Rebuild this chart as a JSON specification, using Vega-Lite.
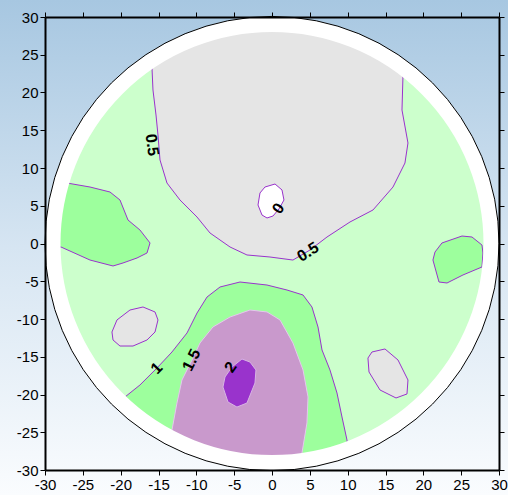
{
 "$schema": "https://vega.github.io/schema/vega-lite/v6.json",
 "width": 454, "height": 453,
 "autosize": {"type": "none"},
 "padding": {"left": 45, "top": 17, "right": 9, "bottom": 25},
 "background": "white",
 "config": {
  "view": {"stroke": null},
  "axis": {"grid": false, "domainColor": "#000", "domainWidth": 2, "tickColor": "#000", "tickSize": 5, "tickWidth": 1,
   "labelFont": "Liberation Sans", "labelFontSize": 15, "labelColor": "#000", "labelPadding": 2, "labelFlush": false}
 },
 "datasets": {
  "one": [{}],
  "poly": [
   {"id":"g1","lv":"grey","i":0,"x":-15.86,"y":23.25},
   {"id":"g1","lv":"grey","i":1,"x":-15.73,"y":20.33},
   {"id":"g1","lv":"grey","i":2,"x":-15.33,"y":17.02},
   {"id":"g1","lv":"grey","i":3,"x":-15.07,"y":14.37},
   {"id":"g1","lv":"grey","i":4,"x":-14.8,"y":11.06},
   {"id":"g1","lv":"grey","i":5,"x":-13.88,"y":8.01},
   {"id":"g1","lv":"grey","i":6,"x":-12.16,"y":5.76},
   {"id":"g1","lv":"grey","i":7,"x":-9.91,"y":3.51},
   {"id":"g1","lv":"grey","i":8,"x":-8.19,"y":1.39},
   {"id":"g1","lv":"grey","i":9,"x":-5.55,"y":-0.46},
   {"id":"g1","lv":"grey","i":10,"x":-3.31,"y":-1.52},
   {"id":"g1","lv":"grey","i":11,"x":-0.27,"y":-1.79},
   {"id":"g1","lv":"grey","i":12,"x":2.77,"y":-2.19},
   {"id":"g1","lv":"grey","i":13,"x":5.02,"y":-0.86},
   {"id":"g1","lv":"grey","i":14,"x":7.27,"y":0.86},
   {"id":"g1","lv":"grey","i":15,"x":10.31,"y":2.85},
   {"id":"g1","lv":"grey","i":16,"x":13.35,"y":4.44},
   {"id":"g1","lv":"grey","i":17,"x":15.99,"y":7.48},
   {"id":"g1","lv":"grey","i":18,"x":17.57,"y":10.66},
   {"id":"g1","lv":"grey","i":19,"x":17.97,"y":13.31},
   {"id":"g1","lv":"grey","i":20,"x":17.18,"y":17.68},
   {"id":"g1","lv":"grey","i":21,"x":17.31,"y":22.19},
   {"id":"g1","lv":"grey","i":22,"x":16.8,"y":24.0},
   {"id":"g1","lv":"grey","i":23,"x":10.0,"y":27.5},
   {"id":"g1","lv":"grey","i":24,"x":0,"y":29.3},
   {"id":"g1","lv":"grey","i":25,"x":-10.0,"y":27.5},
   {"id":"g1","lv":"grey","i":26,"x":-16.8,"y":24.0},
   {"id":"g1","lv":"grey","i":27,"x":-15.86,"y":23.25},

   {"id":"s1","lv":"grey","i":0,"x":-21.15,"y":-11.72},
   {"id":"s1","lv":"grey","i":1,"x":-20.49,"y":-10.13},
   {"id":"s1","lv":"grey","i":2,"x":-18.77,"y":-8.81},
   {"id":"s1","lv":"grey","i":3,"x":-17.05,"y":-8.41},
   {"id":"s1","lv":"grey","i":4,"x":-15.46,"y":-9.07},
   {"id":"s1","lv":"grey","i":5,"x":-15.07,"y":-10.13},
   {"id":"s1","lv":"grey","i":6,"x":-15.46,"y":-11.72},
   {"id":"s1","lv":"grey","i":7,"x":-16.52,"y":-12.78},
   {"id":"s1","lv":"grey","i":8,"x":-18.37,"y":-13.58},
   {"id":"s1","lv":"grey","i":9,"x":-20.09,"y":-13.58},
   {"id":"s1","lv":"grey","i":10,"x":-21.01,"y":-12.78},
   {"id":"s1","lv":"grey","i":11,"x":-21.15,"y":-11.72},

   {"id":"s2","lv":"grey","i":0,"x":13.21,"y":-14.37},
   {"id":"s2","lv":"grey","i":1,"x":14.93,"y":-13.97},
   {"id":"s2","lv":"grey","i":2,"x":16.65,"y":-15.43},
   {"id":"s2","lv":"grey","i":3,"x":17.97,"y":-18.08},
   {"id":"s2","lv":"grey","i":4,"x":17.84,"y":-19.93},
   {"id":"s2","lv":"grey","i":5,"x":16.39,"y":-20.46},
   {"id":"s2","lv":"grey","i":6,"x":14.27,"y":-19.4},
   {"id":"s2","lv":"grey","i":7,"x":12.82,"y":-17.02},
   {"id":"s2","lv":"grey","i":8,"x":12.68,"y":-15.17},
   {"id":"s2","lv":"grey","i":9,"x":13.21,"y":-14.37},

   {"id":"h1","lv":"white","i":0,"x":-0.93,"y":7.48},
   {"id":"h1","lv":"white","i":1,"x":0.4,"y":7.88},
   {"id":"h1","lv":"white","i":2,"x":1.32,"y":7.09},
   {"id":"h1","lv":"white","i":3,"x":1.58,"y":5.76},
   {"id":"h1","lv":"white","i":4,"x":0.92,"y":4.57},
   {"id":"h1","lv":"white","i":5,"x":0.13,"y":3.64},
   {"id":"h1","lv":"white","i":6,"x":-0.66,"y":3.38},
   {"id":"h1","lv":"white","i":7,"x":-1.32,"y":3.77},
   {"id":"h1","lv":"white","i":8,"x":-1.85,"y":5.1},
   {"id":"h1","lv":"white","i":9,"x":-1.59,"y":6.69},
   {"id":"h1","lv":"white","i":10,"x":-0.93,"y":7.48},

   {"id":"k1","lv":"green","i":0,"x":-27.09,"y":8.01},
   {"id":"k1","lv":"green","i":1,"x":-24.05,"y":7.48},
   {"id":"k1","lv":"green","i":2,"x":-21.41,"y":6.82},
   {"id":"k1","lv":"green","i":3,"x":-20.09,"y":5.76},
   {"id":"k1","lv":"green","i":4,"x":-19.03,"y":3.11},
   {"id":"k1","lv":"green","i":5,"x":-17.45,"y":1.79},
   {"id":"k1","lv":"green","i":6,"x":-16.12,"y":0.07},
   {"id":"k1","lv":"green","i":7,"x":-16.52,"y":-1.26},
   {"id":"k1","lv":"green","i":8,"x":-17.84,"y":-1.92},
   {"id":"k1","lv":"green","i":9,"x":-19.69,"y":-2.58},
   {"id":"k1","lv":"green","i":10,"x":-21.01,"y":-2.98},
   {"id":"k1","lv":"green","i":11,"x":-24.05,"y":-2.19},
   {"id":"k1","lv":"green","i":12,"x":-27.89,"y":-0.46},
   {"id":"k1","lv":"green","i":13,"x":-29.29,"y":-0.51},
   {"id":"k1","lv":"green","i":14,"x":-29.0,"y":4.08},
   {"id":"k1","lv":"green","i":15,"x":-28.1,"y":8.3},
   {"id":"k1","lv":"green","i":16,"x":-27.09,"y":8.01},

   {"id":"k2","lv":"green","i":0,"x":21.54,"y":-1.13},
   {"id":"k2","lv":"green","i":1,"x":22.46,"y":0.07},
   {"id":"k2","lv":"green","i":2,"x":25.11,"y":0.99},
   {"id":"k2","lv":"green","i":3,"x":26.43,"y":0.86},
   {"id":"k2","lv":"green","i":4,"x":27.75,"y":-0.2},
   {"id":"k2","lv":"green","i":5,"x":27.88,"y":-1.26},
   {"id":"k2","lv":"green","i":6,"x":27.75,"y":-3.11},
   {"id":"k2","lv":"green","i":7,"x":25.24,"y":-4.17},
   {"id":"k2","lv":"green","i":8,"x":23.13,"y":-5.23},
   {"id":"k2","lv":"green","i":9,"x":22.07,"y":-5.1},
   {"id":"k2","lv":"green","i":10,"x":21.27,"y":-2.19},
   {"id":"k2","lv":"green","i":11,"x":21.54,"y":-1.13},

   {"id":"k3","lv":"green","i":0,"x":-19.43,"y":-20.33},
   {"id":"k3","lv":"green","i":1,"x":-17.45,"y":-18.74},
   {"id":"k3","lv":"green","i":2,"x":-15.2,"y":-16.49},
   {"id":"k3","lv":"green","i":3,"x":-13.22,"y":-14.37},
   {"id":"k3","lv":"green","i":4,"x":-11.23,"y":-11.85},
   {"id":"k3","lv":"green","i":5,"x":-9.91,"y":-9.21},
   {"id":"k3","lv":"green","i":6,"x":-8.59,"y":-7.09},
   {"id":"k3","lv":"green","i":7,"x":-6.87,"y":-5.76},
   {"id":"k3","lv":"green","i":8,"x":-4.23,"y":-5.1},
   {"id":"k3","lv":"green","i":9,"x":-0.66,"y":-5.5},
   {"id":"k3","lv":"green","i":10,"x":1.98,"y":-6.16},
   {"id":"k3","lv":"green","i":11,"x":4.1,"y":-6.82},
   {"id":"k3","lv":"green","i":12,"x":5.28,"y":-8.41},
   {"id":"k3","lv":"green","i":13,"x":6.08,"y":-11.06},
   {"id":"k3","lv":"green","i":14,"x":6.61,"y":-14.11},
   {"id":"k3","lv":"green","i":15,"x":7.66,"y":-16.75},
   {"id":"k3","lv":"green","i":16,"x":8.59,"y":-19.8},
   {"id":"k3","lv":"green","i":17,"x":9.25,"y":-22.98},
   {"id":"k3","lv":"green","i":18,"x":9.91,"y":-26.03},
   {"id":"k3","lv":"green","i":19,"x":10.02,"y":-27.53},
   {"id":"k3","lv":"green","i":20,"x":0,"y":-29.3},
   {"id":"k3","lv":"green","i":21,"x":-10.02,"y":-27.53},
   {"id":"k3","lv":"green","i":22,"x":-16.81,"y":-24.0},
   {"id":"k3","lv":"green","i":23,"x":-20.35,"y":-21.08},
   {"id":"k3","lv":"green","i":24,"x":-19.43,"y":-20.33},

   {"id":"p1","lv":"pink","i":0,"x":-13.22,"y":-24.7},
   {"id":"p1","lv":"pink","i":1,"x":-12.56,"y":-21.13},
   {"id":"p1","lv":"pink","i":2,"x":-11.9,"y":-18.08},
   {"id":"p1","lv":"pink","i":3,"x":-10.57,"y":-15.43},
   {"id":"p1","lv":"pink","i":4,"x":-9.52,"y":-13.18},
   {"id":"p1","lv":"pink","i":5,"x":-7.8,"y":-11.06},
   {"id":"p1","lv":"pink","i":6,"x":-5.55,"y":-9.74},
   {"id":"p1","lv":"pink","i":7,"x":-2.91,"y":-8.81},
   {"id":"p1","lv":"pink","i":8,"x":-0.66,"y":-9.07},
   {"id":"p1","lv":"pink","i":9,"x":1.06,"y":-10.13},
   {"id":"p1","lv":"pink","i":10,"x":2.77,"y":-13.18},
   {"id":"p1","lv":"pink","i":11,"x":4.1,"y":-16.75},
   {"id":"p1","lv":"pink","i":12,"x":4.76,"y":-20.33},
   {"id":"p1","lv":"pink","i":13,"x":4.62,"y":-23.77},
   {"id":"p1","lv":"pink","i":14,"x":3.96,"y":-27.75},
   {"id":"p1","lv":"pink","i":15,"x":4.1,"y":-29.0},
   {"id":"p1","lv":"pink","i":16,"x":0,"y":-29.3},
   {"id":"p1","lv":"pink","i":17,"x":-7.58,"y":-28.3},
   {"id":"p1","lv":"pink","i":18,"x":-13.84,"y":-25.82},
   {"id":"p1","lv":"pink","i":19,"x":-13.22,"y":-24.7},

   {"id":"q1","lv":"purple","i":0,"x":-5.29,"y":-16.36},
   {"id":"q1","lv":"purple","i":1,"x":-3.97,"y":-15.3},
   {"id":"q1","lv":"purple","i":2,"x":-2.91,"y":-15.7},
   {"id":"q1","lv":"purple","i":3,"x":-2.12,"y":-16.75},
   {"id":"q1","lv":"purple","i":4,"x":-2.25,"y":-18.48},
   {"id":"q1","lv":"purple","i":5,"x":-3.31,"y":-21.13},
   {"id":"q1","lv":"purple","i":6,"x":-4.63,"y":-21.66},
   {"id":"q1","lv":"purple","i":7,"x":-5.82,"y":-20.99},
   {"id":"q1","lv":"purple","i":8,"x":-6.48,"y":-19.01},
   {"id":"q1","lv":"purple","i":9,"x":-6.21,"y":-17.68},
   {"id":"q1","lv":"purple","i":10,"x":-5.29,"y":-16.36}
  ],
  "labels": [
   {"id":"a","t":"0.5","x":-15.86,"y":13.05},
   {"id":"b","t":"0.5","x":4.76,"y":-1.13},
   {"id":"c","t":"0","x":0.85,"y":4.65},
   {"id":"d","t":"1","x":-15.24,"y":-16.53},
   {"id":"e","t":"1.5","x":-10.62,"y":-15.43},
   {"id":"f","t":"2","x":-5.46,"y":-16.4}
  ]
 },
 "resolve": {"axis": {"x": "independent", "y": "independent"}},
 "layer": [
  {
   "data": {"name": "one"},
   "mark": {"type": "rect", "color": {"gradient": "linear", "x1": 0, "y1": 0, "x2": 0, "y2": 1,
     "stops": [{"offset": 0, "color": "#a7c7e1"}, {"offset": 0.5, "color": "#d6e5f2"}, {"offset": 1, "color": "#fafcfe"}]}},
   "encoding": {
    "x": {"datum": -35.95, "type": "quantitative", "scale": {"domain": [-30, 30], "nice": false, "zero": false},
      "axis": {"orient": "bottom", "title": null, "zindex": 2, "values": [-30,-25,-20,-15,-10,-5,0,5,10,15,20,25,30],
        "labelExpr": "datum.value < 0 ? '-' + abs(datum.value) : '' + datum.value"}},
    "x2": {"datum": 31.19},
    "y": {"datum": 32.25, "type": "quantitative", "scale": {"domain": [-30, 30], "nice": false, "zero": false},
      "axis": {"orient": "left", "title": null, "zindex": 2, "values": [-30,-25,-20,-15,-10,-5,0,5,10,15,20,25,30],
        "labelExpr": "datum.value < 0 ? '-' + abs(datum.value) : '' + datum.value"}},
    "y2": {"datum": -33.31}
   }
  },
  {
   "data": {"name": "one"},
   "mark": {"type": "point", "shape": "circle", "filled": true, "fill": "#ccffcc", "strokeWidth": 0, "opacity": 1, "size": 180540},
   "encoding": {"x": {"datum": 0, "type": "quantitative", "axis": null}, "y": {"datum": 0, "type": "quantitative", "axis": null}}
  },
  {
   "data": {"name": "poly"},
   "transform": [{"filter": "datum.lv == 'grey'"}],
   "mark": {"type": "line", "fill": "#e5e5e5", "stroke": "#9933cc", "strokeWidth": 1},
   "encoding": {"x": {"field": "x", "type": "quantitative", "axis": null}, "y": {"field": "y", "type": "quantitative", "axis": null},
     "detail": {"field": "id"}, "order": {"field": "i", "type": "quantitative"}}
  },
  {
   "data": {"name": "poly"},
   "transform": [{"filter": "datum.lv == 'green'"}],
   "mark": {"type": "line", "fill": "#9dff9d", "stroke": "#9933cc", "strokeWidth": 1},
   "encoding": {"x": {"field": "x", "type": "quantitative", "axis": null}, "y": {"field": "y", "type": "quantitative", "axis": null},
     "detail": {"field": "id"}, "order": {"field": "i", "type": "quantitative"}}
  },
  {
   "data": {"name": "poly"},
   "transform": [{"filter": "datum.lv == 'pink'"}],
   "mark": {"type": "line", "fill": "#c999cc", "stroke": "#e6c6ee", "strokeWidth": 1},
   "encoding": {"x": {"field": "x", "type": "quantitative", "axis": null}, "y": {"field": "y", "type": "quantitative", "axis": null},
     "detail": {"field": "id"}, "order": {"field": "i", "type": "quantitative"}}
  },
  {
   "data": {"name": "poly"},
   "transform": [{"filter": "datum.lv == 'purple'"}],
   "mark": {"type": "line", "fill": "#9933cc", "stroke": "#d8b4e4", "strokeWidth": 1},
   "encoding": {"x": {"field": "x", "type": "quantitative", "axis": null}, "y": {"field": "y", "type": "quantitative", "axis": null},
     "detail": {"field": "id"}, "order": {"field": "i", "type": "quantitative"}}
  },
  {
   "data": {"name": "poly"},
   "transform": [{"filter": "datum.lv == 'white'"}],
   "mark": {"type": "line", "fill": "#ffffff", "stroke": "#9933cc", "strokeWidth": 1},
   "encoding": {"x": {"field": "x", "type": "quantitative", "axis": null}, "y": {"field": "y", "type": "quantitative", "axis": null},
     "detail": {"field": "id"}, "order": {"field": "i", "type": "quantitative"}}
  },
  {
   "data": {"name": "one"},
   "mark": {"type": "point", "shape": "circle", "filled": false, "stroke": "#ffffff", "strokeWidth": 15.5, "opacity": 1, "size": 192282},
   "encoding": {"x": {"datum": 0, "type": "quantitative", "axis": null}, "y": {"datum": 0, "type": "quantitative", "axis": null}}
  },
  {
   "data": {"name": "one"},
   "mark": {"type": "point", "shape": "circle", "filled": false, "stroke": "#000000", "strokeWidth": 1, "opacity": 1, "size": 206116},
   "encoding": {
    "x": {"datum": 0, "type": "quantitative", "axis": {"orient": "top", "title": null, "zindex": 2, "labels": false, "values": [-30,-25,-20,-15,-10,-5,0,5,10,15,20,25,30]}},
    "y": {"datum": 0, "type": "quantitative", "axis": {"orient": "right", "title": null, "zindex": 2, "labels": false, "values": [-30,-25,-20,-15,-10,-5,0,5,10,15,20,25,30]}}
   }
  },
  {
   "data": {"name": "labels"},
   "transform": [{"filter": "datum.id == 'a'"}],
   "mark": {"type": "text", "font": "Liberation Sans", "fontWeight": "bold", "fontSize": 16, "color": "#000", "angle": 82},
   "encoding": {"x": {"field": "x", "type": "quantitative", "axis": null}, "y": {"field": "y", "type": "quantitative", "axis": null}, "text": {"field": "t"}}
  },
  {
   "data": {"name": "labels"},
   "transform": [{"filter": "datum.id == 'b'"}],
   "mark": {"type": "text", "font": "Liberation Sans", "fontWeight": "bold", "fontSize": 16, "color": "#000", "angle": 328},
   "encoding": {"x": {"field": "x", "type": "quantitative", "axis": null}, "y": {"field": "y", "type": "quantitative", "axis": null}, "text": {"field": "t"}}
  },
  {
   "data": {"name": "labels"},
   "transform": [{"filter": "datum.id == 'c'"}],
   "mark": {"type": "text", "font": "Liberation Sans", "fontWeight": "bold", "fontSize": 16, "color": "#000", "angle": 305},
   "encoding": {"x": {"field": "x", "type": "quantitative", "axis": null}, "y": {"field": "y", "type": "quantitative", "axis": null}, "text": {"field": "t"}}
  },
  {
   "data": {"name": "labels"},
   "transform": [{"filter": "datum.id == 'd'"}],
   "mark": {"type": "text", "font": "Liberation Sans", "fontWeight": "bold", "fontSize": 16, "color": "#000", "angle": 314},
   "encoding": {"x": {"field": "x", "type": "quantitative", "axis": null}, "y": {"field": "y", "type": "quantitative", "axis": null}, "text": {"field": "t"}}
  },
  {
   "data": {"name": "labels"},
   "transform": [{"filter": "datum.id == 'e'"}],
   "mark": {"type": "text", "font": "Liberation Sans", "fontWeight": "bold", "fontSize": 16, "color": "#000", "angle": 296},
   "encoding": {"x": {"field": "x", "type": "quantitative", "axis": null}, "y": {"field": "y", "type": "quantitative", "axis": null}, "text": {"field": "t"}}
  },
  {
   "data": {"name": "labels"},
   "transform": [{"filter": "datum.id == 'f'"}],
   "mark": {"type": "text", "font": "Liberation Sans", "fontWeight": "bold", "fontSize": 16, "color": "#000", "angle": 305},
   "encoding": {"x": {"field": "x", "type": "quantitative", "axis": null}, "y": {"field": "y", "type": "quantitative", "axis": null}, "text": {"field": "t"}}
  }
 ]
}
